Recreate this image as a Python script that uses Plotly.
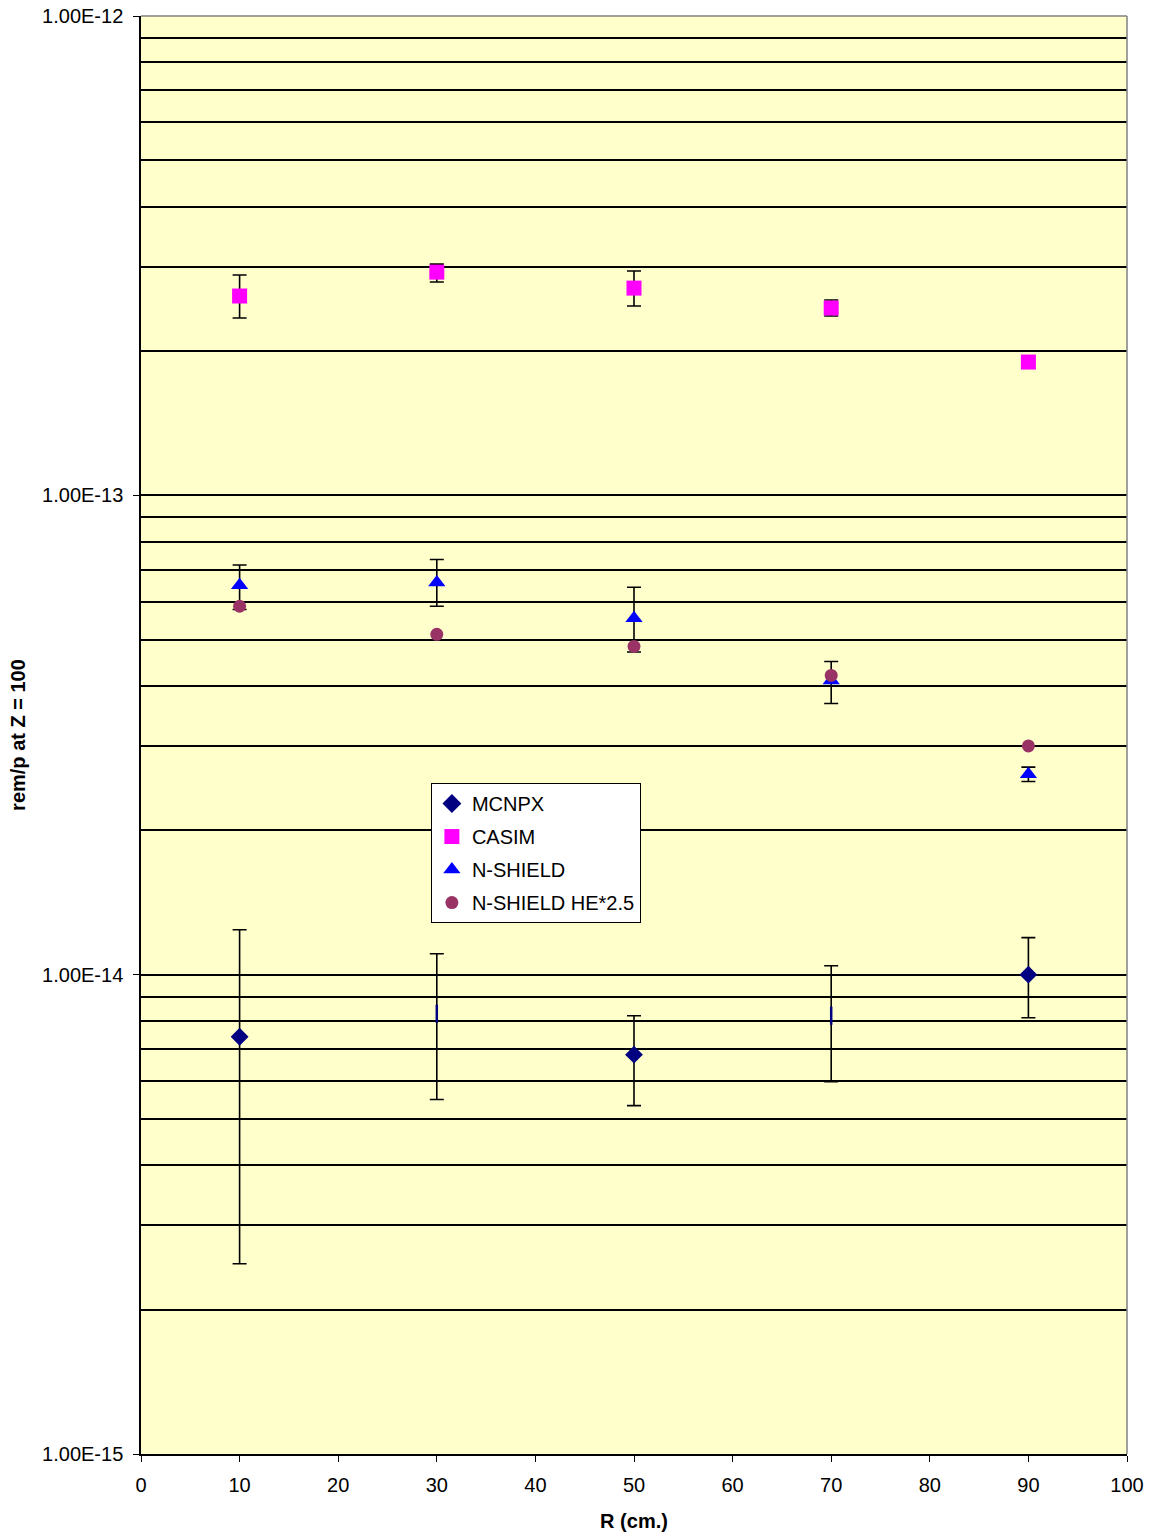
import plotly.graph_objects as go

# ---- data ----
R = [10, 30, 50, 70, 90]

mcnpx = [7.42e-15, 8.29e-15, 6.81e-15, 8.21e-15, 1.00e-14]
mcnpx_hi = [1.241e-14, 1.106e-14, 8.21e-15, 1.044e-14, 1.195e-14]
mcnpx_lo = [2.494e-15, 5.49e-15, 5.33e-15, 5.98e-15, 8.13e-15]

casim = [2.605e-13, 2.922e-13, 2.706e-13, 2.459e-13, 1.897e-13]
casim_hi = [2.882e-13, 3.037e-13, 2.937e-13, 2.555e-13, 1.897e-13]
casim_lo = [2.344e-13, 2.786e-13, 2.483e-13, 2.366e-13, 1.897e-13]

nshield = [6.49e-14, 6.58e-14, 5.54e-14, 4.11e-14, 2.62e-14]
nshield_hi = [7.155e-14, 7.35e-14, 6.43e-14, 4.50e-14, 2.71e-14]
nshield_lo = [5.78e-14, 5.87e-14, 4.71e-14, 3.68e-14, 2.53e-14]

nshield_he = [5.87e-14, 5.13e-14, 4.84e-14, 4.21e-14, 3.00e-14]

major_vals = [1e-15, 1e-14, 1e-13, 1e-12]
major_text = ["1.00E-15", "1.00E-14", "1.00E-13", "1.00E-12"]
minor_vals = [m * d for d in (1e-15, 1e-14, 1e-13) for m in range(2, 10)]

# ---- figure ----
FONT = "Liberation Sans, Arial, sans-serif"


def errs(v, hi, lo):
    return dict(type="data", symmetric=False,
                array=[h - x for x, h in zip(v, hi)],
                arrayminus=[x - l for x, l in zip(v, lo)],
                color="black", thickness=1.6, width=7)


fig = go.Figure()
fig.add_trace(go.Scatter(
    x=R, y=mcnpx, mode="markers", name="MCNPX", legendgroup="a",
    error_y=errs(mcnpx, mcnpx_hi, mcnpx_lo),
    marker=dict(symbol=["diamond", "line-ns", "diamond", "line-ns", "diamond"],
                size=[11, 13, 11, 13, 11], color="#000080", opacity=1,
                line=dict(color="#000080", width=2.5))))
fig.add_trace(go.Scatter(
    x=R, y=casim, mode="markers", name="CASIM", legendgroup="b",
    error_y=errs(casim, casim_hi, casim_lo),
    marker=dict(symbol="square", size=15, color="#FF00FF")))
fig.add_trace(go.Scatter(
    x=R, y=nshield, mode="markers", name="N-SHIELD", legendgroup="c",
    error_y=errs(nshield, nshield_hi, nshield_lo),
    marker=dict(symbol="triangle-up", size=15, color="#0000FF")))
fig.add_trace(go.Scatter(
    x=R, y=nshield_he, mode="markers", name="N-SHIELD HE*2.5", legendgroup="d",
    marker=dict(symbol="circle", size=13, color="#993366")))

fig.update_layout(
    width=1154, height=1538,
    margin=dict(l=141, r=27, t=16, b=84),
    paper_bgcolor="white", plot_bgcolor="#FFFFCC",
    font=dict(family=FONT, size=20, color="black"),
    showlegend=True,
    legend=dict(x=0.294, y=0.4666, xanchor="left", yanchor="top",
                bgcolor="white", bordercolor="black", borderwidth=1,
                font=dict(size=20), itemsizing="trace",
                traceorder="grouped", tracegroupgap=4),
    xaxis=dict(range=[0, 100], tickmode="linear", tick0=0, dtick=10,
               showgrid=False, zeroline=False, showline=True,
               linecolor="black", linewidth=1.5, ticks="outside",
               ticklen=6, tickcolor="black", automargin=False,
               ticklabelstandoff=6,
               title=dict(text="<b>R (cm.)</b>", standoff=19,
                          font=dict(size=20))),
    yaxis=dict(type="log", range=[-15, -12], tickmode="array",
               tickvals=major_vals, ticktext=major_text,
               showgrid=True, gridcolor="black", gridwidth=1.5,
               zeroline=False, showline=True, linecolor="black",
               linewidth=1.5, ticks="outside", ticklen=6, tickcolor="black",
               automargin=False, ticklabelstandoff=6,
               minor=dict(tickmode="array", tickvals=minor_vals,
                          showgrid=True, gridcolor="black", gridwidth=1.5,
                          ticks=""),
               title=dict(text="<b>rem/p at Z = 100</b>", standoff=11,
                          font=dict(size=20))),
)

# grey plot-area border on top and right
fig.add_shape(type="line", xref="paper", yref="paper", x0=0, x1=1, y0=1, y1=1,
              line=dict(color="#808080", width=1.5))
fig.add_shape(type="line", xref="paper", yref="paper", x0=1, x1=1, y0=0, y1=1,
              line=dict(color="#808080", width=1.5))

fig.write_html("out.html")
